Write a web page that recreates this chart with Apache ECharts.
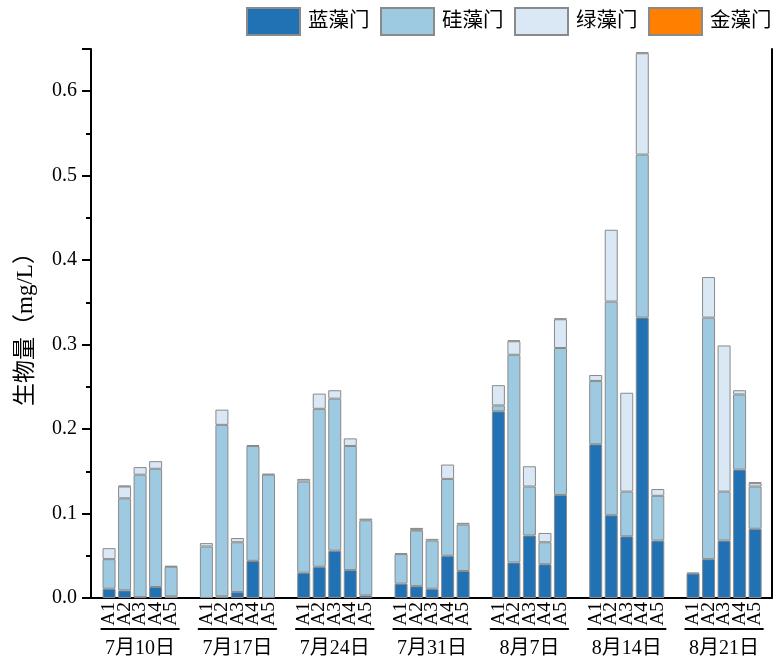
<!DOCTYPE html>
<html><head><meta charset="utf-8">
<script src="https://cdn.jsdelivr.net/npm/echarts@6/dist/echarts.min.js"></script>
<style>html,body{margin:0;padding:0;background:#fff}#c{width:774px;height:658px}</style>
</head><body><div id="c"></div>
<script>
const dates = ['7月10日','7月17日','7月24日','7月31日','8月7日','8月14日','8月21日'];
const sites = ['A1','A2','A3','A4','A5'];
const seriesNames = ['蓝藻门','硅藻门','绿藻门','金藻门'];
const cyano = [[0.011,0.009,0.001,0.013,0.002],[0,0.002,0.007,0.044,0],[0.030,0.037,0.056,0.033,0.003],[0.017,0.014,0.011,0.050,0.032],[0.221,0.042,0.074,0.040,0.122],[0.182,0.098,0.073,0.332,0.068],[0.029,0.046,0.068,0.152,0.082]];
const diatom = [[0.035,0.109,0.145,0.140,0.035],[0.061,0.203,0.059,0.136,0.146],[0.108,0.187,0.180,0.147,0.089],[0.035,0.066,0.057,0.091,0.055],[0.007,0.246,0.058,0.026,0.174],[0.075,0.253,0.053,0.193,0.053],[0,0.286,0.058,0.089,0.050]];
const green = [[0.013,0.014,0.009,0.009,0.001],[0.004,0.018,0.005,0.001,0.001],[0.003,0.018,0.010,0.009,0.002],[0.001,0.001,0.002,0.017,0.002],[0.024,0.016,0.024,0.011,0.034],[0.007,0.085,0.117,0.120,0.008],[0,0.048,0.173,0.005,0.004]];
const gold = [[0,0.001,0,0,0],[0,0,0,0,0],[0,0,0,0,0],[0,0.002,0,0,0],[0,0.001,0,0,0.001],[0,0,0,0.001,0],[0.001,0,0,0,0.001]];
const yTicks = [0,0.1,0.2,0.3,0.4,0.5,0.6];

const groups = [cyano, diatom, green, gold];
const colors = ['#2171b5','#9ecae1','#d9e8f4','#ff7f00'];
const serif = "'Liberation Serif','Times New Roman','Noto Sans CJK SC',serif";

const plotTop = 49, plotBottom = 60, plotLeft = 91, plotRight = 2.5;
const groupStart = 101.3, groupStep = 97.33, groupWidth = 77.6;

const grid = [{left: plotLeft, right: plotRight, top: plotTop, bottom: plotBottom, outerBoundsMode: 'none', containLabel: false}];
const xAxis = [
  {gridIndex: 0, type: 'category', data: [''], axisLine: {show: true, lineStyle: {color: '#000', width: 2}}, axisTick: {show: false}, axisLabel: {show: false}},
  {gridIndex: 0, type: 'category', position: 'top', data: [''], axisLine: {show: true, lineStyle: {color: '#000', width: 2}}, axisTick: {show: false}, axisLabel: {show: false}}
];
const yAxis = [
  {gridIndex: 0, type: 'value', min: 0, max: 0.65, interval: 0.1,
   name: '生物量（mg/L）', nameLocation: 'middle', nameGap: 54,
   nameTextStyle: {fontSize: 23, fontFamily: serif, color: '#000'},
   axisLine: {show: true, lineStyle: {color: '#000', width: 2}},
   axisTick: {show: true, length: 9, lineStyle: {color: '#000', width: 2}},
   minorTick: {show: true, splitNumber: 2, length: 5, lineStyle: {color: '#000', width: 2}},
   splitLine: {show: false},
   axisLabel: {fontSize: 20, fontFamily: serif, color: '#000', margin: 14,
     formatter: v => yTicks.some(t => Math.abs(t - v) < 1e-9) ? v.toFixed(1) : ''}},
  {gridIndex: 0, type: 'value', position: 'right', min: 0, max: 0.65,
   axisLine: {show: true, lineStyle: {color: '#000', width: 2}}, axisTick: {show: false},
   axisLabel: {show: false}, splitLine: {show: false}}
];
const series = [];
dates.forEach((d, g) => {
  const gi = g + 1;
  grid.push({left: groupStart + g * groupStep, width: groupWidth, top: plotTop, bottom: plotBottom, outerBoundsMode: 'none', containLabel: false});
  xAxis.push({gridIndex: gi, type: 'category', data: sites,
    axisLine: {show: false}, axisTick: {show: false},
    axisLabel: {rotate: 90, margin: 4, fontSize: 19.5, fontFamily: serif, color: '#000', interval: 0}});
  xAxis.push({gridIndex: gi, type: 'category', data: sites, position: 'bottom', offset: 31,
    axisLine: {show: true, lineStyle: {color: '#000', width: 2}}, axisTick: {show: false}, axisLabel: {show: false},
    name: d, nameLocation: 'middle', nameGap: 10,
    nameTextStyle: {fontSize: 20, fontFamily: serif, color: '#000'}});
  yAxis.push({gridIndex: gi, type: 'value', min: 0, max: 0.65, show: false});
  const xIdx = 2 + g * 2;
  groups.forEach((arr, k) => {
    series.push({
      name: seriesNames[k], type: 'bar', stack: 'g' + g,
      xAxisIndex: xIdx, yAxisIndex: gi + 1, barWidth: 13,
      itemStyle: {color: colors[k], borderColor: '#8a8a8a', borderWidth: 1},
      data: arr[g].map(v => v === 0 ? null : v),
      animation: false
    });
  });
});

const chart = echarts.init(document.getElementById('c'));
chart.setOption({
  animation: false,
  legend: {
    data: seriesNames, left: 246, top: 7, width: 528, padding: 0,
    itemWidth: 53, itemHeight: 27, itemGap: 10.5,
    icon: 'rect',
    textStyle: {fontSize: 20.5, fontFamily: serif, color: '#000', padding: [0, 0, 0, 3]}
  },
  grid, xAxis, yAxis, series
});
</script></body></html>
